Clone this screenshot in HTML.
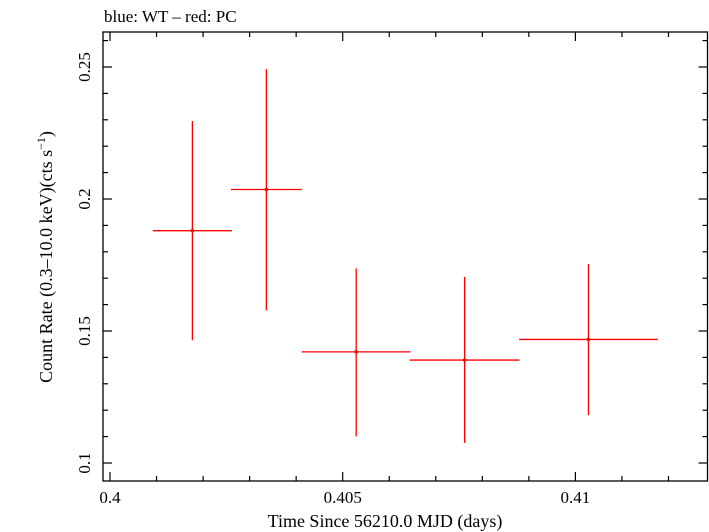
<!DOCTYPE html>
<html><head><meta charset="utf-8"><style>
body{margin:0;background:#fff;}
svg{display:block;font-family:"Liberation Serif",serif;}
</style></head><body>
<svg id="chart" width="709" height="532">
<text x="104" y="22" font-size="17">blue: WT – red: PC</text>
<rect x="103" y="32" width="604.5" height="449" fill="none" stroke="#000" stroke-width="1.3"/>
<g id="axes"></g>
<g id="marks"></g>
<text x="385" y="527" font-size="18" text-anchor="middle">Time Since 56210.0 MJD (days)</text>
<text transform="translate(52,257) rotate(-90)" font-size="18" text-anchor="middle">Count Rate (0.3–10.0 keV)(cts s<tspan dy="-7" font-size="12">−1</tspan><tspan dy="7">)</tspan></text>
</svg>
<script>
const times=[0.40177,0.40336,0.40529,0.40762,0.41028];
const timeErr=[0.00085,0.00076,0.00117,0.00118,0.00149];
const rates=[0.1880,0.2036,0.1421,0.1390,0.1468];
const rateUp=[0.2295,0.2492,0.1737,0.1705,0.1754];
const rateLo=[0.1465,0.1578,0.1101,0.1076,0.1181];
const xTicks=["0.4","0.405","0.41"];
const yTicks=["0.1","0.15","0.2","0.25"];
const NS="http://www.w3.org/2000/svg";
const L=103,R=707.5,T=32,B=481;
function xs(v){return 110+(v-0.4)*46540;}
function ys(v){return 463-(v-0.1)*2640;}
function mk(tag,attrs,parent){const e=document.createElementNS(NS,tag);for(const k in attrs)e.setAttribute(k,attrs[k]);parent.appendChild(e);return e;}
const ax=document.getElementById('axes');
for(let i=0;i<=13;i++){const v=0.4+i*0.001;const x=xs(v);if(x>R)break;const maj=i%5===0;const len=maj?9:5;
 const t1=mk('line',{x1:x,x2:x,y1:B,y2:B-len,stroke:'#000','stroke-width':1.2},ax);
 
 
 const t2=mk('line',{x1:x,x2:x,y1:T,y2:T+len,stroke:'#000','stroke-width':1.2},ax);
 
 
 if(maj){const lb=mk('text',{x:x,y:503,'font-size':17,'text-anchor':'middle'},ax);lb.textContent=xTicks[i/5];
 
 }}
for(let i=0;i<=17;i++){const v=0.1+i*0.01;const y=ys(v);if(y<T)break;const maj=i%5===0;const len=maj?9:5;
 const t1=mk('line',{x1:L,x2:L+len,y1:y,y2:y,stroke:'#000','stroke-width':1.2},ax);
 
 
 const t2=mk('line',{x1:R,x2:R-len,y1:y,y2:y,stroke:'#000','stroke-width':1.2},ax);
 
 
 if(maj){const lb=mk('text',{transform:`translate(90,${y}) rotate(-90)`,'font-size':17,'text-anchor':'middle'},ax);lb.textContent=yTicks[i/5];
 
 }}
const mg=document.getElementById('marks');
times.forEach((t,i)=>{const g=mk('g',{},mg);
 
 
 mk('line',{x1:xs(t-timeErr[i]),x2:xs(t+timeErr[i]),y1:ys(rates[i]),y2:ys(rates[i]),stroke:'#f00','stroke-width':1.3},g);
 mk('line',{x1:xs(t),x2:xs(t),y1:ys(rateLo[i]),y2:ys(rateUp[i]),stroke:'#f00','stroke-width':1.3},g);
 mk('circle',{cx:xs(t),cy:ys(rates[i]),r:1.8,fill:'#f00'},g);});
</script>
</body></html>
